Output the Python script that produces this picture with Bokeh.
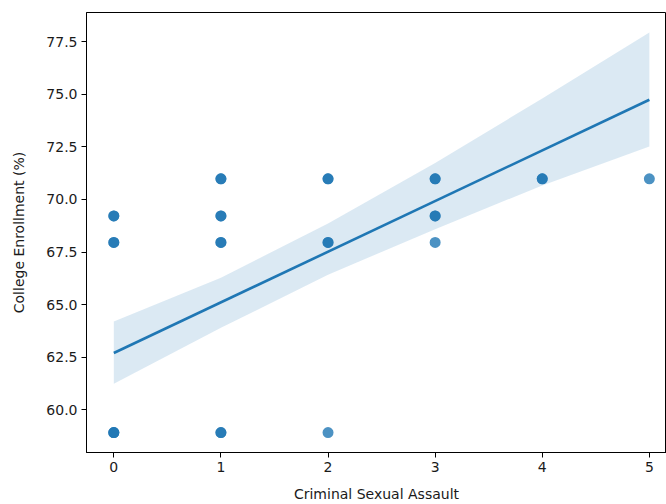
from bokeh.plotting import figure
from bokeh.models import Range1d, FixedTicker, PrintfTickFormatter
from bokeh.embed import file_html
from bokeh.resources import INLINE

# Scatter data (duplicates reflect overlapping, darker markers)
assault = [0, 0, 0, 0, 0, 0, 0,
           1, 1, 1, 1, 1, 1, 1, 1,
           2, 2, 2, 2, 2,
           3, 3, 3, 3, 3,
           4, 4,
           5]
enroll = [58.92, 58.92, 58.92, 67.96, 67.96, 69.22, 69.22,
          58.92, 58.92, 67.96, 67.96, 69.22, 69.22, 70.98, 70.98,
          58.92, 67.96, 67.96, 70.98, 70.98,
          67.96, 69.22, 69.22, 70.98, 70.98,
          70.98, 70.98,
          70.98]

# Regression line and confidence band
fit_x = [0, 5]
fit_y = [62.70, 74.74]
band_x = [0, 1, 2, 3, 4, 5]
band_upper = [64.20, 66.28, 68.86, 71.74, 74.80, 77.94]
band_lower = [61.24, 63.90, 66.42, 68.59, 70.67, 72.52]

x_ticks = [0, 1, 2, 3, 4, 5]
y_ticks = [60.0, 62.5, 65.0, 67.5, 70.0, 72.5, 75.0, 77.5]

FONT = "DejaVu Sans"
BLUE = "#1f77b4"

p = figure(width=666, height=504,
           x_range=Range1d(-0.255, 5.16), y_range=Range1d(57.97, 78.89),
           output_backend="svg", toolbar_location=None,
           min_border_left=86, min_border_top=12, min_border_bottom=51,
           min_border_right=0)
p.background_fill_color = "white"
p.border_fill_color = "white"
p.outline_line_color = "black"
p.outline_line_width = 1
p.grid.visible = False

p.scatter(assault, enroll, size=11, fill_color=BLUE, fill_alpha=0.8,
          line_color=None)
p.varea(x=band_x, y1=band_lower, y2=band_upper, fill_color=BLUE,
        fill_alpha=0.16)
p.line(fit_x, fit_y, line_color=BLUE, line_width=2.6)

p.xaxis.ticker = FixedTicker(ticks=x_ticks)
p.yaxis.ticker = FixedTicker(ticks=y_ticks)
p.yaxis.formatter = PrintfTickFormatter(format="%.1f")
p.xaxis.axis_label = "Criminal Sexual Assault"
p.yaxis.axis_label = "College Enrollment (%)"

for ax in (p.xaxis[0], p.yaxis[0]):
    ax.axis_label_text_font = FONT
    ax.axis_label_text_font_style = "normal"
    ax.axis_label_text_font_size = "14px"
    ax.axis_label_text_color = "#1a1a1a"
    ax.major_label_text_font = FONT
    ax.major_label_text_font_size = "14px"
    ax.major_label_text_color = "#1a1a1a"
    ax.major_tick_in = 0
    ax.major_tick_out = 5
    ax.minor_tick_line_color = None
    ax.axis_line_color = "black"
    ax.major_tick_line_color = "black"
    ax.major_label_standoff = 4

p.xaxis.axis_label_standoff = 11
p.yaxis.axis_label_standoff = 16

open("out.html", "w").write(file_html(p, INLINE))
